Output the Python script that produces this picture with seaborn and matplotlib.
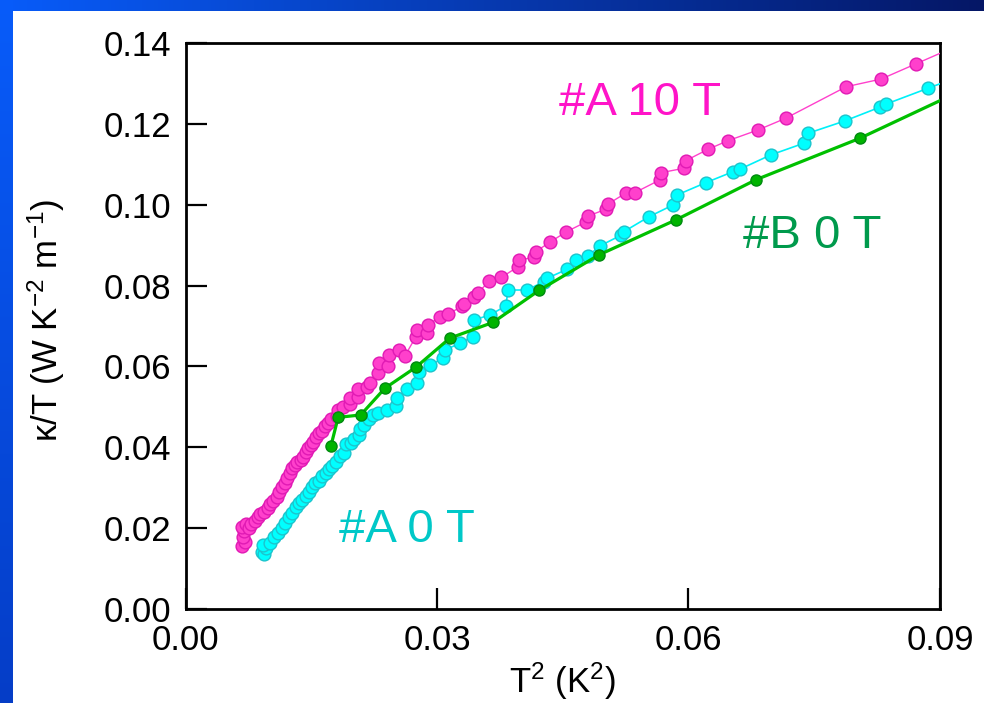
import numpy as np
import pandas as pd
import matplotlib
matplotlib.use("Agg")
import matplotlib.pyplot as plt
import seaborn as sns

# ---- data: kappa/T versus T^2 ----
# sample #A, 10 T
a10_t2 = [0.00677, 0.00709, 0.00689, 0.00697, 0.00670, 0.00718, 0.00757, 0.00781,
          0.00828, 0.00861, 0.00888, 0.00939, 0.00980, 0.01007, 0.01047, 0.01087,
          0.01115, 0.01154, 0.01186, 0.01206, 0.01246, 0.01266, 0.01305, 0.01326,
          0.01377, 0.01404, 0.01433, 0.01464, 0.01496, 0.01523, 0.01552, 0.01591,
          0.01631, 0.01663, 0.01702, 0.01734, 0.01802, 0.01821, 0.01881, 0.01961,
          0.01961, 0.02060, 0.02060, 0.02160, 0.02199, 0.02298, 0.02310, 0.02417,
          0.02429, 0.02545, 0.02616, 0.02748, 0.02763, 0.02882, 0.02894, 0.03034,
          0.03133, 0.03304, 0.03320, 0.03439, 0.03490, 0.03624, 0.03769, 0.03967,
          0.03979, 0.04154, 0.04175, 0.04345, 0.04544, 0.04783, 0.04802, 0.05013,
          0.05040, 0.05259, 0.05358, 0.05656, 0.05668, 0.05942, 0.05966, 0.06232,
          0.06470, 0.06828, 0.07158, 0.07882, 0.08299, 0.08708, 0.09232]
a10_kt = [0.01558, 0.01664, 0.01788, 0.01929, 0.02035, 0.02102, 0.01996, 0.02102,
          0.02184, 0.02283, 0.02349, 0.02406, 0.02490, 0.02597, 0.02678, 0.02777,
          0.02901, 0.03010, 0.03109, 0.03232, 0.03356, 0.03480, 0.03561, 0.03643,
          0.03685, 0.03766, 0.03890, 0.03974, 0.04056, 0.04137, 0.04246, 0.04360,
          0.04409, 0.04526, 0.04607, 0.04691, 0.04773, 0.04921, 0.04988, 0.05070,
          0.05211, 0.05250, 0.05433, 0.05497, 0.05596, 0.05844, 0.06091, 0.06009,
          0.06282, 0.06405, 0.06257, 0.06734, 0.06900, 0.06833, 0.07024, 0.07229,
          0.07296, 0.07494, 0.07543, 0.07724, 0.07823, 0.08113, 0.08204, 0.08466,
          0.08632, 0.08699, 0.08837, 0.09070, 0.09332, 0.09579, 0.09720, 0.09886,
          0.10017, 0.10297, 0.10297, 0.10611, 0.10791, 0.10900, 0.11088, 0.11370,
          0.11583, 0.11848, 0.12137, 0.12919, 0.13109, 0.13480, 0.13955]

# sample #A, 0 T
a0_t2 = [0.00908, 0.00939, 0.00956, 0.00924, 0.01007, 0.01059, 0.01106, 0.01147,
         0.01186, 0.01234, 0.01266, 0.01314, 0.01353, 0.01392, 0.01433, 0.01472,
         0.01511, 0.01544, 0.01591, 0.01624, 0.01671, 0.01711, 0.01750, 0.01790,
         0.01842, 0.01893, 0.01910, 0.01973, 0.02012, 0.02068, 0.02080, 0.02131,
         0.02187, 0.02239, 0.02298, 0.02398, 0.02509, 0.02525, 0.02644, 0.02763,
         0.02787, 0.02915, 0.03073, 0.03093, 0.03272, 0.03424, 0.03439, 0.03630,
         0.03820, 0.03848, 0.04074, 0.04273, 0.04313, 0.04551, 0.04663, 0.04802,
         0.04941, 0.05200, 0.05227, 0.05529, 0.05815, 0.05862, 0.06205, 0.06530,
         0.06610, 0.06979, 0.07373, 0.07424, 0.07861, 0.08279, 0.08359, 0.08855,
         0.09410]
a0_kt = [0.01417, 0.01360, 0.01501, 0.01583, 0.01640, 0.01773, 0.01872, 0.01996,
         0.02119, 0.02268, 0.02367, 0.02515, 0.02614, 0.02696, 0.02795, 0.02901,
         0.03025, 0.03123, 0.03173, 0.03289, 0.03371, 0.03455, 0.03537, 0.03643,
         0.03784, 0.03866, 0.04081, 0.04113, 0.04197, 0.04304, 0.04444, 0.04551,
         0.04691, 0.04798, 0.04855, 0.04921, 0.05020, 0.05211, 0.05433, 0.05596,
         0.05869, 0.06034, 0.06200, 0.06405, 0.06571, 0.06734, 0.07148, 0.07272,
         0.07494, 0.07890, 0.07890, 0.08096, 0.08180, 0.08402, 0.08632, 0.08731,
         0.08978, 0.09251, 0.09332, 0.09703, 0.09993, 0.10240, 0.10544, 0.10816,
         0.10876, 0.11229, 0.11519, 0.11766, 0.12070, 0.12409, 0.12491, 0.12879,
         0.13310]

# sample #B, 0 T
b0_t2 = [0.01734, 0.01821, 0.02090, 0.02378, 0.02748, 0.03153, 0.03669,
         0.04217, 0.04933, 0.05855, 0.06807, 0.08040, 0.09530]
b0_kt = [0.04030, 0.04740, 0.04800, 0.05460, 0.05980, 0.06700, 0.07090,
         0.07880, 0.08760, 0.09630, 0.10620, 0.11640, 0.13090]

x_ticks = [0.00, 0.03, 0.06, 0.09]
y_ticks = [0.00, 0.02, 0.04, 0.06, 0.08, 0.10, 0.12, 0.14]

sns.set_theme(style="white")
plt.rcParams["font.family"] = ["Liberation Sans", "DejaVu Sans"]
plt.rcParams["mathtext.fontset"] = "custom"
plt.rcParams["mathtext.rm"] = "Liberation Sans"
plt.rcParams["mathtext.it"] = "Liberation Sans:italic"
plt.rcParams["mathtext.bf"] = "Liberation Sans:bold"

fig = plt.figure(figsize=(9.84, 7.03), dpi=100, facecolor="white")

# blue slide frame along the top and left edges
bg = fig.add_axes([0, 0, 1, 1], zorder=-10)
bg.set_axis_off()
bg.set_xlim(0, 984)
bg.set_ylim(703, 0)
c_left = np.array([0.03, 0.36, 0.98])
c_right = np.array([0.02, 0.09, 0.40])
t = np.linspace(0, 1, 256)[None, :, None]
top_grad = c_left * (1 - t) + c_right * t
bg.imshow(top_grad, extent=(0, 984, 11, 0), aspect="auto")
c_bottom = np.array([0.02, 0.24, 0.78])
s = np.linspace(0, 1, 256)[:, None, None]
left_grad = c_left * (1 - s) + c_bottom * s
bg.imshow(left_grad, extent=(0, 13, 703, 0), aspect="auto")

ax = fig.add_axes([185.5 / 984, 1 - 609 / 703, 754.5 / 984, 566 / 703])
ax.set_facecolor("white")

df_a10 = pd.DataFrame({"t2": a10_t2, "kt": a10_kt})
df_a0 = pd.DataFrame({"t2": a0_t2, "kt": a0_kt})
df_b0 = pd.DataFrame({"t2": b0_t2, "kt": b0_kt})

sns.lineplot(data=df_a10, x="t2", y="kt", ax=ax, sort=False, estimator=None,
             color="#FF40CC", linewidth=1.0, marker="o", markersize=9.2,
             markerfacecolor="#FF40CC", markeredgecolor="#E01AB4",
             markeredgewidth=1.0, zorder=3)
sns.lineplot(data=df_a0, x="t2", y="kt", ax=ax, sort=False, estimator=None,
             color="#00F0F8", linewidth=1.2, marker="o", markersize=9.2,
             markerfacecolor="#00FFFF", markeredgecolor="#1CC4CC",
             markeredgewidth=1.0, zorder=4)
sns.lineplot(data=df_b0, x="t2", y="kt", ax=ax, sort=False, estimator=None,
             color="#00C000", linewidth=2.3, marker="o", markersize=8.0,
             markerfacecolor="#00B400", markeredgecolor="#008A10",
             markeredgewidth=1.0, zorder=5)

ax.set_xlim(0, 0.09)
ax.set_ylim(0, 0.14)
ax.set_xticks(x_ticks)
ax.set_yticks(y_ticks)
ax.set_xticklabels([f"{v:.2f}" for v in x_ticks])
ax.set_yticklabels([f"{v:.2f}" for v in y_ticks])
ax.tick_params(axis="both", direction="in", length=15, width=1.6,
               labelsize=25, colors="black", bottom=True, left=True,
               top=False, right=False)
ax.tick_params(axis="x", pad=11)
ax.tick_params(axis="y", pad=10)
for sp in ax.spines.values():
    sp.set_visible(True)
    sp.set_color("black")
    sp.set_linewidth(2.0)

ax.set_xlabel(r"T$^2$ (K$^2$)", fontsize=25, color="black", labelpad=2)
ax.set_ylabel(r"κ/T (W K$^{-2}$ m$^{-1}$)", fontsize=25, color="black")
ax.yaxis.set_label_coords(-0.157, 0.51)

ax.text(0.0542, 0.1222, "#A 10 T", color="#FF14C8", fontsize=34,
        ha="center", va="baseline", zorder=6)
ax.text(0.0748, 0.0893, "#B 0 T", color="#009A4C", fontsize=34,
        ha="center", va="baseline", zorder=6,
        bbox=dict(facecolor="white", edgecolor="none", pad=2))
ax.text(0.0264, 0.0166, "#A 0 T", color="#00C8C8", fontsize=34,
        ha="center", va="baseline", zorder=6,
        bbox=dict(facecolor="white", edgecolor="none", pad=2))

fig.savefig("out.png", dpi=100, facecolor="white")
